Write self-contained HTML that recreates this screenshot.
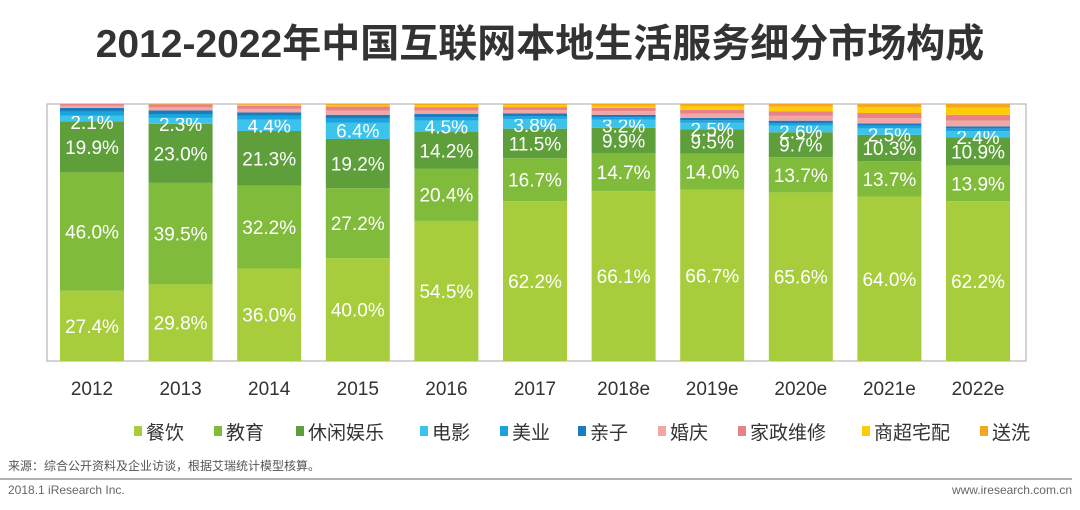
<!DOCTYPE html>
<html><head><meta charset="utf-8">
<style>
body{margin:0;width:1080px;height:505px;background:#fff;overflow:hidden;font-family:"Liberation Sans","Noto Sans CJK SC",sans-serif;}
</style></head><body>
<svg id="c" width="1080" height="505" xmlns="http://www.w3.org/2000/svg">
<text x="540" y="57" text-anchor="middle" font-size="39" font-weight="bold" fill="#333" font-family="Liberation Sans, Noto Sans CJK SC, sans-serif">2012-2022年中国互联网本地生活服务细分市场构成</text>
<rect x="47" y="104" width="979" height="257" fill="none" stroke="#aaa" stroke-width="1"/>
<g id="bars"></g>
<g id="legend"></g>
<text x="8" y="470" font-size="12" fill="#555">来源：综合公开资料及企业访谈，根据艾瑞统计模型核算。</text>
<line x1="0" y1="479" x2="1072" y2="479" stroke="#999" stroke-width="1.5"/>
<text x="8" y="494" font-size="12" fill="#666">2018.1 iResearch Inc.</text>
<text x="1072" y="494" font-size="12" fill="#666" text-anchor="end">www.iresearch.com.cn</text>
</svg>
<script>
const categories=["2012","2013","2014","2015","2016","2017","2018e","2019e","2020e","2021e","2022e"];
const seriesNames=["餐饮","教育","休闲娱乐","电影","美业","亲子","婚庆","家政维修","商超宅配","送洗"];
const canyin=[27.4,29.8,36.0,40.0,54.5,62.2,66.1,66.7,65.6,64.0,62.2];
const jiaoyu=[46.0,39.5,32.2,27.2,20.4,16.7,14.7,14.0,13.7,13.7,13.9];
const xiuxian=[19.9,23.0,21.3,19.2,14.2,11.5,9.9,9.5,9.7,10.3,10.9];
const dianying=[2.1,2.3,4.4,6.4,4.5,3.8,3.2,2.5,2.6,2.5,2.4];
const meiye=[1.6,1.5,1.5,1.6,1.3,1.1,1.0,1.0,1.0,1.0,1.0];
const qinzi=[1.5,1.4,1.3,1.4,1.2,1.0,0.9,0.9,0.9,0.9,0.9];
const hunqing=[0.8,1.2,1.4,1.6,1.4,1.3,1.4,1.6,1.9,2.1,2.3];
const jiazheng=[0.7,1.1,1.2,1.6,1.3,1.2,1.3,1.5,1.8,2.0,2.2];
const shangchao=[0,0.1,0.4,0.6,0.7,0.7,0.9,1.5,1.8,2.3,2.8];
const songxi=[0,0.1,0.3,0.4,0.5,0.5,0.6,0.8,1.0,1.2,1.4];
const series=[canyin,jiaoyu,xiuxian,dianying,meiye,qinzi,hunqing,jiazheng,shangchao,songxi];
const colors=["#a8cd3c","#80bb3c","#5e9f3c","#3cc3ec","#1aa3dc","#1a7cbd","#f2a6a6","#e8828a","#fecb06","#f5a623"];
const NS="http://www.w3.org/2000/svg";
const plotTop=104,plotBottom=361,x0=92,step=88.6,bw=64;
function xs(i){return x0+i*step;}
function ys(v){return plotBottom-(plotBottom-plotTop)*v/100;}
const g=document.getElementById('bars');
categories.forEach((cat,i)=>{
  let acc=0;
  series.forEach((s,k)=>{
    const v=s[i];const y1=ys(acc),y2=ys(acc+v);
    const r=document.createElementNS(NS,'rect');
    r.setAttribute('x',xs(i)-bw/2);r.setAttribute('y',y2);r.setAttribute('width',bw);r.setAttribute('height',Math.max(0,y1-y2));
    r.setAttribute('fill',colors[k]);
    
    
    g.appendChild(r);
    if(k<4){
      const t=document.createElementNS(NS,'text');
      let cy=(y1+y2)/2+7; if(k===3)cy=Math.max(cy,y2+13);
      t.setAttribute('x',xs(i));t.setAttribute('y',cy);t.setAttribute('text-anchor','middle');
      t.setAttribute('font-size','19');t.setAttribute('fill','#fff');
      t.textContent=v.toFixed(1)+'%';
      
      
      g.appendChild(t);
    }
    acc+=v;
  });
  const t=document.createElementNS(NS,'text');
  t.setAttribute('x',xs(i));t.setAttribute('y',395);t.setAttribute('text-anchor','middle');
  t.setAttribute('font-size','19');t.setAttribute('fill','#333');t.textContent=cat;
  
  
  g.appendChild(t);
});
const lg=document.getElementById('legend');
const lx=[134,214,296,420,500,578,658,738,862,980];
seriesNames.forEach((n,k)=>{
  const r=document.createElementNS(NS,'rect');
  r.setAttribute('x',lx[k]);r.setAttribute('y',426);r.setAttribute('width',8);r.setAttribute('height',10);r.setAttribute('fill',colors[k]);
  
  
  lg.appendChild(r);
  const t=document.createElementNS(NS,'text');
  t.setAttribute('x',lx[k]+12);t.setAttribute('y',439);t.setAttribute('font-size','19');t.setAttribute('fill','#333');t.textContent=n;
  
  
  lg.appendChild(t);
});
</script>
</body></html>
